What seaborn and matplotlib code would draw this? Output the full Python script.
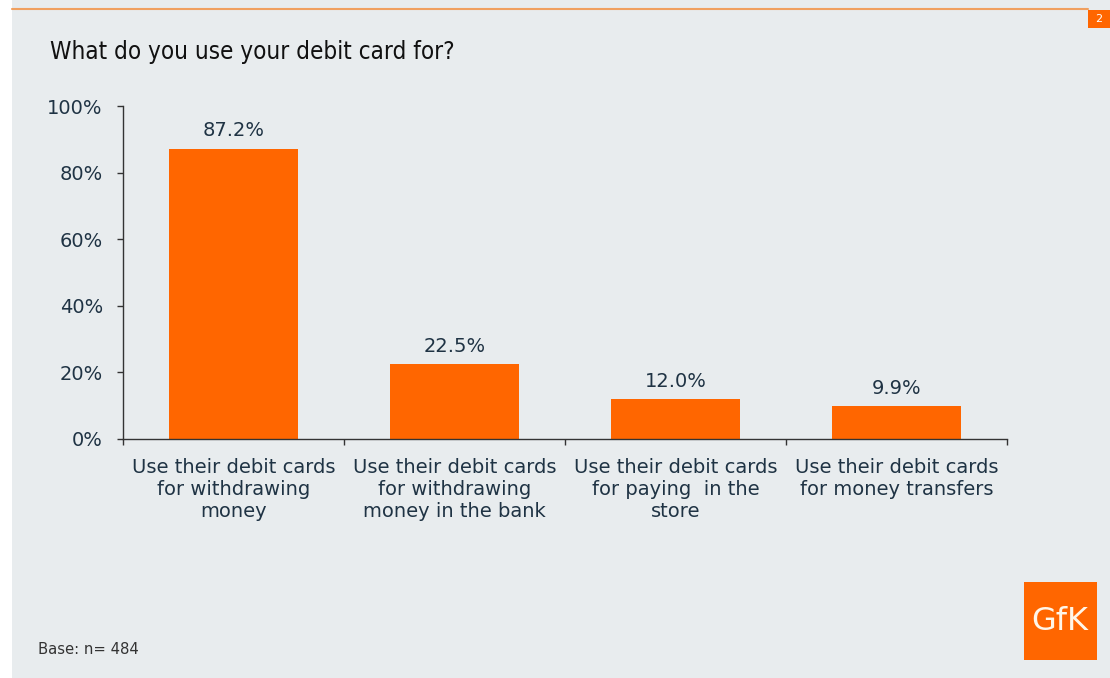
import numpy as np
import pandas as pd
import matplotlib
matplotlib.use("Agg")
import matplotlib.pyplot as plt
import seaborn as sns
from matplotlib.patches import Rectangle

# Data
categories = [
    "Use their debit cards\nfor withdrawing\nmoney",
    "Use their debit cards\nfor withdrawing\nmoney in the bank",
    "Use their debit cards\nfor paying  in the\nstore",
    "Use their debit cards\nfor money transfers",
]
values = [87.2, 22.5, 12.0, 9.9]
value_labels = ["87.2%", "22.5%", "12.0%", "9.9%"]
y_ticks = [0, 20, 40, 60, 80, 100]
y_tick_labels = ["0%", "20%", "40%", "60%", "80%", "100%"]

df = pd.DataFrame({"category": categories, "value": values})

orange = "#FF6600"
bg = "#E8ECEE"
text_col = "#1F3344"

sns.set_style("white")
plt.rcParams["font.family"] = ["DejaVu Sans"]

W, H = 1110, 678
fig = plt.figure(figsize=(W / 100, H / 100), dpi=100)
fig.patch.set_facecolor("white")

# slide background
fig.add_artist(Rectangle((12 / W, 0), 1 - 12 / W, 1, transform=fig.transFigure,
                         facecolor=bg, edgecolor="none", zorder=0))
# top orange rule
fig.add_artist(plt.Line2D([12 / W, 1088 / W], [1 - 9 / H, 1 - 9 / H], transform=fig.transFigure,
                          color="#F0A060", lw=1.5))
# page number box
fig.add_artist(Rectangle((1088 / W, 1 - 28 / H), 22 / W, 18 / H, transform=fig.transFigure,
                         facecolor=orange, edgecolor="none"))
fig.text(1099 / W, 1 - 19 / H, "2", color="white", fontsize=8, ha="center", va="center")

# GfK logo
fig.add_artist(Rectangle((1024 / W, 1 - 660 / H), 73 / W, 78 / H, transform=fig.transFigure,
                         facecolor=orange, edgecolor="none"))
fig.text(1060 / W, 1 - 622 / H, "GfK", color="#FFF6E8", fontsize=23, ha="center", va="center")

# Title and footnote
fig.text(50 / W, 1 - 52 / H, "What do you use your debit card for?", fontsize=17.4,
         color="#111111", va="center", fontstretch="condensed")
fig.text(38 / W, 1 - 650 / H, "Base: n= 484", fontsize=10.7, color="#333333", va="center")

ax = fig.add_axes([123 / W, 239 / H, 884 / W, 333 / H])
ax.set_facecolor("none")
sns.barplot(data=df, x="category", y="value", color=orange, saturation=1, width=0.58,
            linewidth=0, ax=ax)

ax.set_ylim(0, 100)
ax.set_xlim(-0.5, len(categories) - 0.5)
ax.set_yticks(y_ticks)
ax.set_yticklabels(y_tick_labels, fontsize=14, color=text_col)
ax.set_xticks(range(len(categories)))
ax.set_xticklabels(categories, fontsize=14, color=text_col, linespacing=1.2)
ax.set_xticks(np.arange(len(categories) + 1) - 0.5, minor=True)
ax.tick_params(axis="x", which="major", bottom=False, length=0, pad=14)
ax.tick_params(axis="x", which="minor", bottom=True, length=4.5, width=1,
               direction="out", color="#333333")
ax.tick_params(axis="y", left=True, length=4.5, width=1, direction="out",
               color="#333333", pad=10)
ax.set_xlabel("")
ax.set_ylabel("")
for side in ["top", "right"]:
    ax.spines[side].set_visible(False)
for side in ["left", "bottom"]:
    ax.spines[side].set_color("#333333")
    ax.spines[side].set_linewidth(1)

for i, (v, lab) in enumerate(zip(values, value_labels)):
    ax.text(i, v + 2.5, lab, ha="center", va="bottom", fontsize=14, color=text_col)

fig.savefig("out.png", dpi=100, facecolor=fig.get_facecolor())
